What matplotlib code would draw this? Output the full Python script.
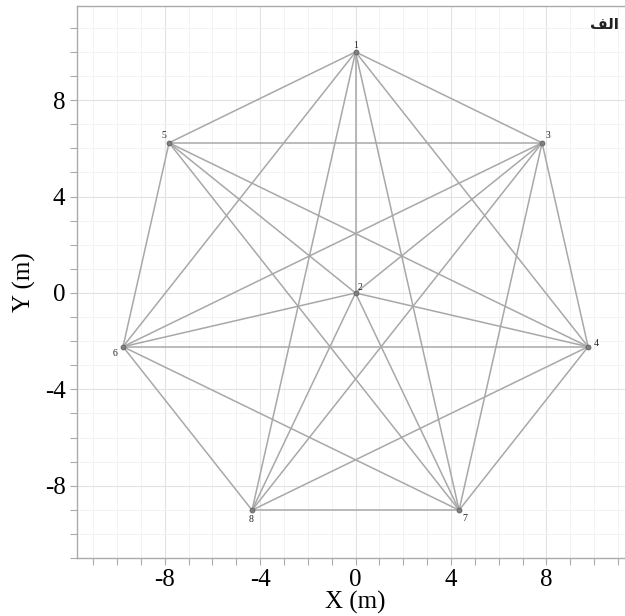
import numpy as np
import matplotlib.pyplot as plt
from matplotlib.ticker import MultipleLocator

# node coordinates (m)
node_ids = [1, 2, 3, 4, 5, 6, 7, 8]
node_x = [0.0, 0.0, 7.82, 9.75, -7.82, -9.75, 4.34, -4.34]
node_y = [10.0, 0.0, 6.23, -2.23, 6.23, -2.23, -9.01, -9.01]

# member connectivity
edges = [
    (1, 2), (1, 3), (1, 4), (1, 5), (1, 6), (1, 7), (1, 8),
    (2, 3), (2, 4), (2, 5), (2, 6), (2, 7), (2, 8),
    (3, 4), (3, 5), (3, 6), (3, 7), (3, 8),
    (4, 5), (4, 6), (4, 7), (4, 8),
    (5, 6), (5, 7),
    (6, 7), (6, 8),
    (7, 8),
]

# label offsets in points
label_off = {1: (0, 5), 2: (3, 4), 3: (4, 5), 4: (6, 2), 5: (-4, 5),
             6: (-6, -5), 7: (4, -6), 8: (-1, -7)}

plt.rcParams['font.family'] = ['Liberation Serif', 'DejaVu Serif']
plt.rcParams['axes.unicode_minus'] = False

fig = plt.figure(figsize=(6.25, 6.16), dpi=100)
ax = fig.add_axes([0.1224, 0.094, 0.893, 0.896])

pos = {n: (x, y) for n, x, y in zip(node_ids, node_x, node_y)}
for a, b in edges:
    ax.plot([pos[a][0], pos[b][0]], [pos[a][1], pos[b][1]],
            color='#a8a8a8', lw=1.1, zorder=2)

ax.plot(node_x, node_y, 'o', ms=3.5, color='#808080', mec='#606060',
        mew=0.6, zorder=3)
for n, x, y in zip(node_ids, node_x, node_y):
    ax.annotate(str(n), (x, y), xytext=label_off[n], textcoords='offset points',
                ha='center', va='center', fontsize=7, color='#222222')

ax.set_xlim(-11.7, 11.7)
ax.set_ylim(-11, 11.9)

ax.xaxis.set_major_locator(MultipleLocator(4))
ax.yaxis.set_major_locator(MultipleLocator(4))
ax.xaxis.set_minor_locator(MultipleLocator(1))
ax.yaxis.set_minor_locator(MultipleLocator(1))
ax.grid(which='major', color='#e2e2e2', lw=0.8, zorder=0)
ax.grid(which='minor', color='#f1f1f1', lw=0.6, zorder=0)
ax.set_axisbelow(True)

ax.tick_params(which='both', direction='out', length=5, width=0.8,
               color='#aaaaaa', labelsize=18, pad=3)
for s in ax.spines.values():
    s.set_color('#aaaaaa')
    s.set_linewidth(1.0)

ax.set_xlabel('X (m)', fontsize=18, labelpad=0)
ax.set_ylabel('Y (m)', fontsize=18, labelpad=6)

# panel tag "الف" (written in presentation forms so it renders joined)
fig.text(0.99, 0.96, '\uFED2\uFEDF\uFE8D', ha='right', va='center',
         fontsize=11, fontweight='bold', family=['DejaVu Sans'],
         color='#222222')

fig.savefig('out.png', dpi=100)
